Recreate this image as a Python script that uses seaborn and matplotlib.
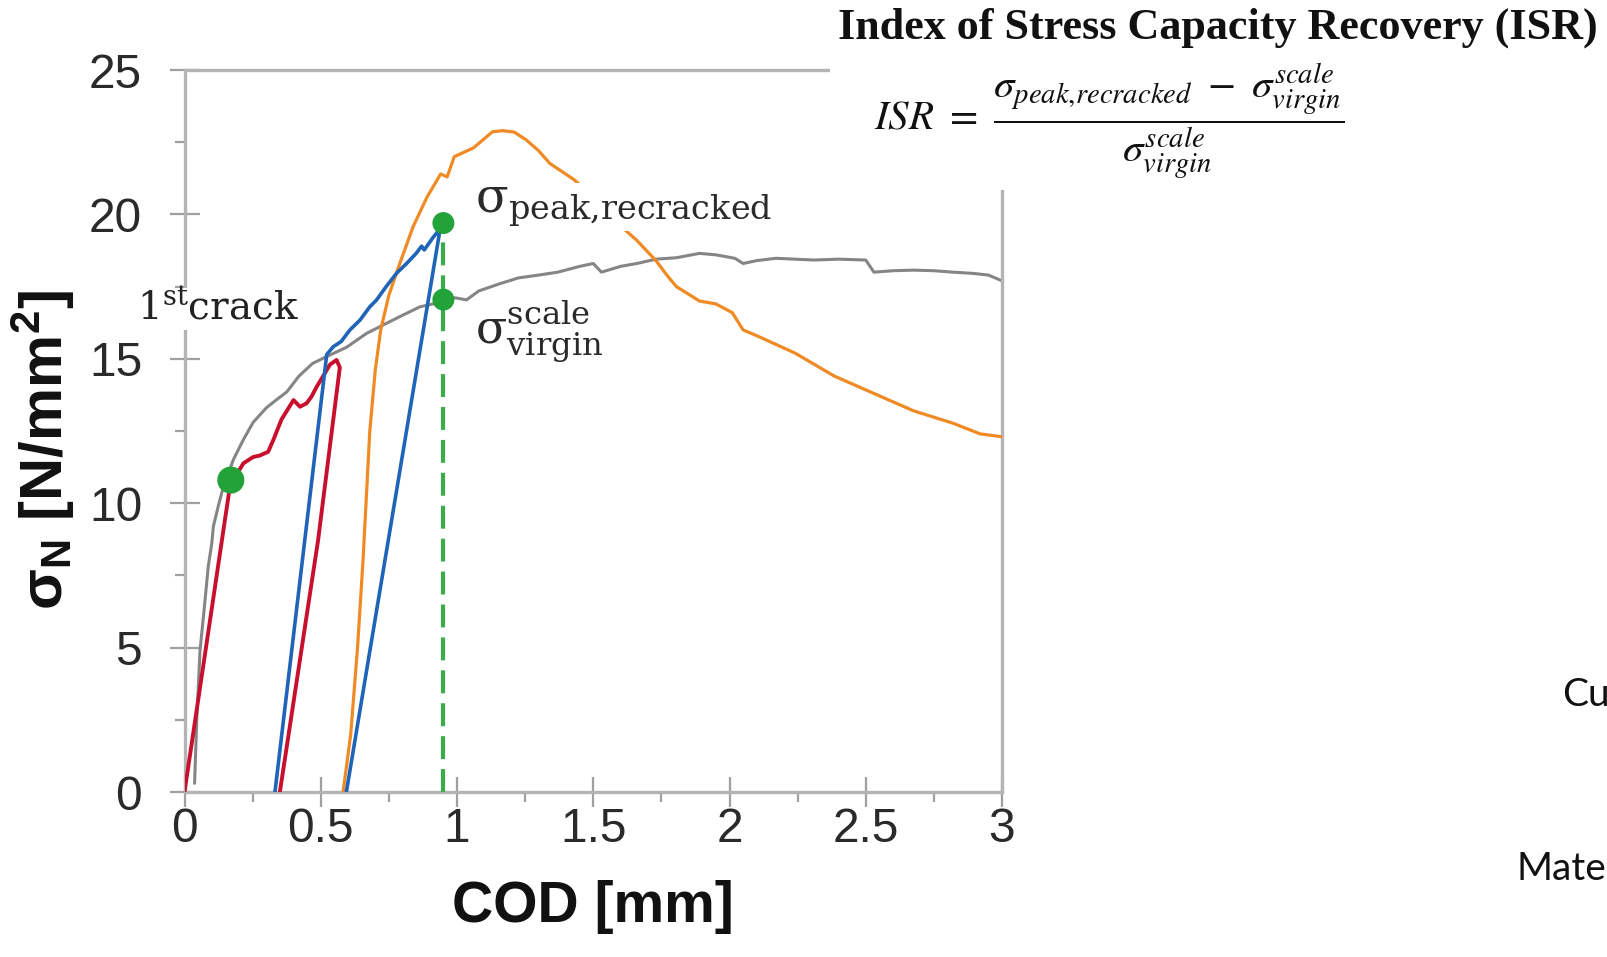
import numpy as np
import pandas as pd
import matplotlib
matplotlib.use("Agg")
import matplotlib.pyplot as plt
from matplotlib.ticker import MultipleLocator, FixedLocator
from matplotlib.patches import Rectangle
import seaborn as sns

# ---------------------------------------------------------------
# Crack opening displacement (COD, mm) vs nominal stress (N/mm^2)
# ---------------------------------------------------------------
# virgin reference specimen (grey)
virgin_cod = [0.037, 0.045, 0.057, 0.075, 0.087, 0.100, 0.106, 0.124, 0.142, 0.179,
              0.216, 0.252, 0.30, 0.34, 0.375, 0.42, 0.47, 0.52, 0.595, 0.668,
              0.729, 0.79, 0.864, 0.912, 0.96, 1.0, 1.035, 1.08, 1.157, 1.225,
              1.30, 1.37, 1.45, 1.50, 1.53, 1.60, 1.66, 1.73, 1.805, 1.89,
              1.95, 2.02, 2.05, 2.10, 2.17, 2.24, 2.31, 2.40, 2.50, 2.53,
              2.60, 2.675, 2.75, 2.82, 2.89, 2.95, 3.0]
virgin_stress = [0.3, 2.5, 4.9, 6.6, 7.8, 8.6, 9.2, 9.9, 10.55, 11.5,
                 12.2, 12.8, 13.3, 13.6, 13.85, 14.4, 14.84, 15.07, 15.4, 15.88,
                 16.17, 16.46, 16.8, 16.9, 17.15, 17.1, 17.04, 17.35, 17.6, 17.8,
                 17.9, 18.0, 18.2, 18.3, 18.0, 18.2, 18.3, 18.45, 18.5, 18.65,
                 18.6, 18.48, 18.3, 18.4, 18.48, 18.45, 18.42, 18.45, 18.42, 18.0,
                 18.05, 18.07, 18.05, 18.0, 17.96, 17.9, 17.7]

# pre-cracking: loading past the first crack, then unloading (red)
precrack_cod = [0.0, 0.167, 0.185, 0.216, 0.252, 0.276, 0.307, 0.326, 0.356, 0.40,
                0.424, 0.448, 0.466, 0.485, 0.515, 0.534, 0.558, 0.57, 0.49, 0.35]
precrack_stress = [0.0, 10.6, 10.9, 11.38, 11.6, 11.65, 11.78, 12.19, 12.9, 13.57,
                   13.34, 13.46, 13.69, 14.03, 14.5, 14.8, 14.96, 14.7, 8.7, 0.0]

# first reloading after healing, then unloading (blue)
reload1_cod = [0.332, 0.522, 0.546, 0.575, 0.607, 0.644, 0.68, 0.705, 0.74, 0.778,
               0.815, 0.85, 0.87, 0.88, 0.912, 0.925, 0.94, 0.594]
reload1_stress = [0.0, 15.15, 15.42, 15.6, 16.0, 16.34, 16.8, 17.04, 17.5, 17.96,
                  18.3, 18.65, 18.9, 18.77, 19.2, 19.35, 19.6, 0.0]

# final reloading up to failure (orange)
reload2_cod = [0.582, 0.61, 0.635, 0.655, 0.68, 0.70, 0.72, 0.75, 0.79, 0.84,
               0.89, 0.94, 0.964, 0.99, 1.06, 1.13, 1.167, 1.21, 1.254, 1.30,
               1.34, 1.43, 1.50, 1.60, 1.66, 1.73, 1.77, 1.805, 1.89, 1.95,
               2.01, 2.05, 2.10, 2.24, 2.385, 2.53, 2.675, 2.82, 2.92, 3.0]
reload2_stress = [0.0, 2.0, 5.0, 8.0, 12.5, 14.6, 16.0, 17.2, 18.3, 19.6,
                  20.6, 21.4, 21.3, 22.0, 22.3, 22.86, 22.9, 22.85, 22.58, 22.2,
                  21.77, 21.2, 20.6, 19.6, 19.1, 18.4, 17.9, 17.5, 17.0, 16.9,
                  16.6, 16.0, 15.8, 15.2, 14.4, 13.8, 13.2, 12.77, 12.4, 12.3]

# characteristic points
crack_cod, crack_stress = 0.17, 10.8
peak_cod = 0.95
peak_recracked = 19.7
virgin_scale = 17.05

x_ticks = [0, 0.5, 1, 1.5, 2, 2.5, 3]
x_tick_labels = ["0", "0.5", "1", "1.5", "2", "2.5", "3"]
y_ticks = [0, 5, 10, 15, 20, 25]
y_tick_labels = ["0", "5", "10", "15", "20", "25"]

# ---------------------------------------------------------------
sns.set_theme(style="white")
plt.rcParams["font.family"] = ["Liberation Sans", "DejaVu Sans"]
plt.rcParams["mathtext.fontset"] = "custom"
plt.rcParams["mathtext.rm"] = "Liberation Sans"
plt.rcParams["mathtext.bf"] = "Liberation Sans:bold"
plt.rcParams["mathtext.it"] = "Liberation Sans:italic"

W, H = 1607, 957
fig = plt.figure(figsize=(W / 100, H / 100), dpi=100)
fig.patch.set_facecolor("white")

x0, x1, ytop, ybot = 184.5, 1002, 70, 792
ax = fig.add_axes([x0 / W, 1 - ybot / H, (x1 - x0) / W, (ybot - ytop) / H])
ax.set_facecolor("white")

GREY = "#858585"
RED = "#c8102e"
BLUE = "#1f64b8"
ORANGE = "#f08a24"
GREEN = "#22a33a"

def curve(xs, ys, color, lw, z):
    df = pd.DataFrame({"COD": xs, "stress": ys})
    sns.lineplot(data=df, x="COD", y="stress", sort=False, estimator=None,
                 color=color, linewidth=lw, ax=ax, zorder=z)

curve(virgin_cod, virgin_stress, GREY, 2.2, 2)
curve(reload2_cod, reload2_stress, ORANGE, 2.3, 3)
curve(precrack_cod, precrack_stress, RED, 2.8, 4)
curve(reload1_cod, reload1_stress, BLUE, 2.6, 5)

ax.vlines(peak_cod, 0, peak_recracked, colors="#3aad4a", linewidth=3.0,
          linestyles=(0, (5.5, 2.4)), zorder=6)

pts = pd.DataFrame({"COD": [crack_cod, peak_cod, peak_cod],
                    "stress": [crack_stress, peak_recracked, virgin_scale]})
sns.scatterplot(data=pts, x="COD", y="stress", color=GREEN, s=[380, 250, 250],
                edgecolor="none", ax=ax, zorder=7, legend=False)

ax.set_xlim(0, 3)
ax.set_ylim(0, 25)
ax.xaxis.set_major_locator(FixedLocator(x_ticks))
ax.yaxis.set_major_locator(FixedLocator(y_ticks))
ax.set_xticklabels(x_tick_labels)
ax.set_yticklabels(y_tick_labels)
ax.xaxis.set_minor_locator(MultipleLocator(0.25))
ax.yaxis.set_minor_locator(MultipleLocator(2.5))

SPINE = "#b4b4b4"
for s in ax.spines.values():
    s.set_visible(True)
    s.set_color(SPINE)
    s.set_linewidth(2.4)

ax.tick_params(which="major", direction="inout", length=21, width=1.6,
               color="#a0a0a0", labelsize=34.5, labelcolor="#2a2a2a")
ax.tick_params(axis="y", which="major", pad=20)
ax.tick_params(axis="x", which="major", pad=0)
ax.tick_params(which="minor", direction="out", length=7, width=1.6,
               color="#a0a0a0")
ax.tick_params(top=False, right=False, which="both")
ax.tick_params(bottom=True, left=True, which="both")

ax.set_xlabel("COD [mm]", fontsize=41, fontweight="bold", color="#111111")
ax.set_ylabel(r"σ$_\mathbf{N}$ [N/mm$^\mathbf{2}$]", fontsize=43,
              fontweight="bold", color="#111111")
ax.xaxis.set_label_coords(0.5, -0.122)
ax.yaxis.set_label_coords(-0.131, 0.474)

# annotations
ax.text(-0.174, 16.34, r"$\mathrm{1^{st}crack}$", math_fontfamily="dejavuserif",
        fontsize=28, color="#222222", ha="left", va="baseline", zorder=8,
        clip_on=False, bbox=dict(facecolor="white", edgecolor="none", pad=1))
ax.text(1.065, 20.05, r"$\mathrm{\sigma_{peak{,}recracked}}$",
        math_fontfamily="dejavuserif", fontsize=34.5, color="#2a2a2a",
        ha="left", va="baseline", zorder=8,
        bbox=dict(facecolor="white", edgecolor="none", pad=1))
ax.text(1.065, 15.55, r"$\mathrm{\sigma^{scale}_{virgin}}$",
        math_fontfamily="dejavuserif", fontsize=33, color="#2a2a2a",
        ha="left", va="baseline", zorder=8)

# definition panel in the upper right
fig.add_artist(Rectangle((830 / W, 1 - 190 / H), 1, 190 / H,
                         transform=fig.transFigure, facecolor="white",
                         edgecolor="none", zorder=10))
fig.text(838 / W, 1 - 39 / H, "Index of Stress Capacity Recovery (ISR)",
         family="Liberation Serif", fontweight="bold", fontsize=31.8,
         color="#111111", ha="left", va="baseline", zorder=11)
fig.text(874 / W, 1 - 121 / H,
         r"$ISR\ =\ \dfrac{\sigma_{peak{,}recracked}\ -\ \sigma_{virgin}^{scale}}{\sigma_{virgin}^{scale}}$",
         math_fontfamily="stix", fontsize=29.5, color="#111111",
         ha="left", va="center", zorder=11)

fig.text(1562 / W, 1 - 695 / H, "Cu", family=["Lato", "DejaVu Sans"],
         fontsize=28, color="#111111", ha="left", va="center")
fig.text(1516 / W, 1 - 869 / H, "Mate", family=["Lato", "DejaVu Sans"],
         fontsize=28, color="#111111", ha="left", va="center")

fig.savefig("out.png", dpi=100, facecolor="white")
